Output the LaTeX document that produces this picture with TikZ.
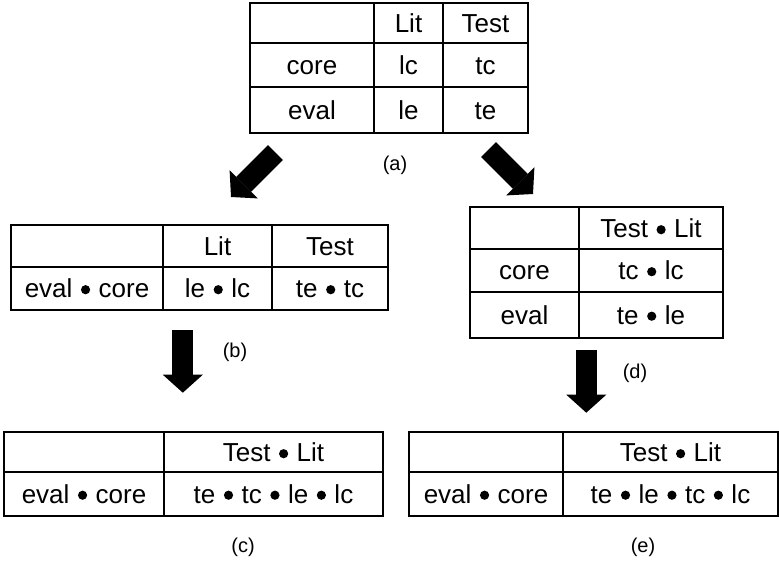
\documentclass[tikz,border=0pt]{standalone}
\usepackage{fontspec}
\setmainfont{Liberation Sans}
\usetikzlibrary{arrows.meta}
% composition bullet between two terms
\newcommand{\bul}{\hspace{8.5pt}\raisebox{3.2pt}{\tikz\fill (0,0) circle[radius=4.6pt];}\hspace{8.5pt}}
\begin{document}
\begin{tikzpicture}[x=1pt,y=-1pt,
  frame/.style={line width=2.6pt},
  grid/.style={line width=1.5pt},
  cell/.style={font=\fontsize{26}{31}\selectfont, inner sep=0pt, anchor=base},
  tag/.style={font=\fontsize{20}{24}\selectfont, inner sep=0pt},
  fat/.style={line width=21pt, -{Triangle[width=40pt,length=18pt,line width=0pt]}}]
\useasboundingbox (0,0) rectangle (779,560);

% ---- table (a)
\draw[grid] (374,3) -- (374,133) (443,3) -- (443,133)
            (250,43) -- (528,43) (250,87) -- (528,87);
\draw[frame] (250,3) rectangle (528,133);
\node[cell] (a-lit)  at (408.5,32.5) {Lit};
\node[cell] (a-test) at (485.5,32.5) {Test};
\node[cell] (a-core) at (312,74) {core};
\node[cell] (a-lc)   at (408.5,74) {lc};
\node[cell] (a-tc)   at (485.5,74) {tc};
\node[cell] (a-eval) at (312,119) {eval};
\node[cell] (a-le)   at (408.5,119) {le};
\node[cell] (a-te)   at (485.5,119) {te};
\node[tag] (lab-a) at (395,165) {(a)};

% ---- table (b)
\draw[grid] (163,225) -- (163,310) (272,225) -- (272,310) (11,267) -- (388,267);
\draw[frame] (11,225) rectangle (388,310);
\node[cell] (b-lit)  at (217.5,255.5) {Lit};
\node[cell] (b-test) at (330,255.5) {Test};
\node[cell] (b-ec)   at (87,297.5) {eval\bul core};
\node[cell] (b-l)    at (217.5,297.5) {le\bul lc};
\node[cell] (b-t)    at (330,297.5) {te\bul tc};
\node[tag] (lab-b) at (235,352) {(b)};

% ---- table (d)
\draw[grid] (579,207) -- (579,338) (470,249) -- (723,249) (470,292) -- (723,292);
\draw[frame] (470,207) rectangle (723,338);
\node[cell] (d-tl)   at (651,237.5) {Test\bul Lit};
\node[cell] (d-core) at (524.5,279.5) {core};
\node[cell] (d-c)    at (651,279.5) {tc\bul lc};
\node[cell] (d-eval) at (524.5,324) {eval};
\node[cell] (d-e)    at (651,324) {te\bul le};
\node[tag] (lab-d) at (635,373) {(d)};

% ---- table (c)
\draw[grid] (164,432) -- (164,516) (4,472) -- (383,472);
\draw[frame] (4,432) rectangle (383,516);
\node[cell] (c-tl) at (273.5,461.5) {Test\bul Lit};
\node[cell] (c-ec) at (84,503) {eval\bul core};
\node[cell] (c-v)  at (273.5,503) {te\bul tc\bul le\bul lc};
\node[tag] (lab-c) at (243,547) {(c)};

% ---- table (e)
\draw[grid] (563,432) -- (563,516) (409,472) -- (778,472);
\draw[frame] (409,432) rectangle (778,516);
\node[cell] (e-tl) at (670.5,461.5) {Test\bul Lit};
\node[cell] (e-ec) at (486,503) {eval\bul core};
\node[cell] (e-v)  at (670.5,503) {te\bul le\bul tc\bul lc};
\node[tag] (lab-e) at (643,547) {(e)};

% ---- block arrows between the tables
\coordinate (ab0) at (275.5,152.5); \coordinate (ab1) at (231,197);
\coordinate (ad0) at (488.5,149.5); \coordinate (ad1) at (533,194);
\coordinate (bc0) at (182.8,330);   \coordinate (bc1) at (182.8,392.7);
\coordinate (de0) at (586.3,350);   \coordinate (de1) at (586.3,412.7);
\draw[fat] (ab0) -- (ab1);
\draw[fat] (ad0) -- (ad1);
\draw[fat] (bc0) -- (bc1);
\draw[fat] (de0) -- (de1);
\end{tikzpicture}
\end{document}
